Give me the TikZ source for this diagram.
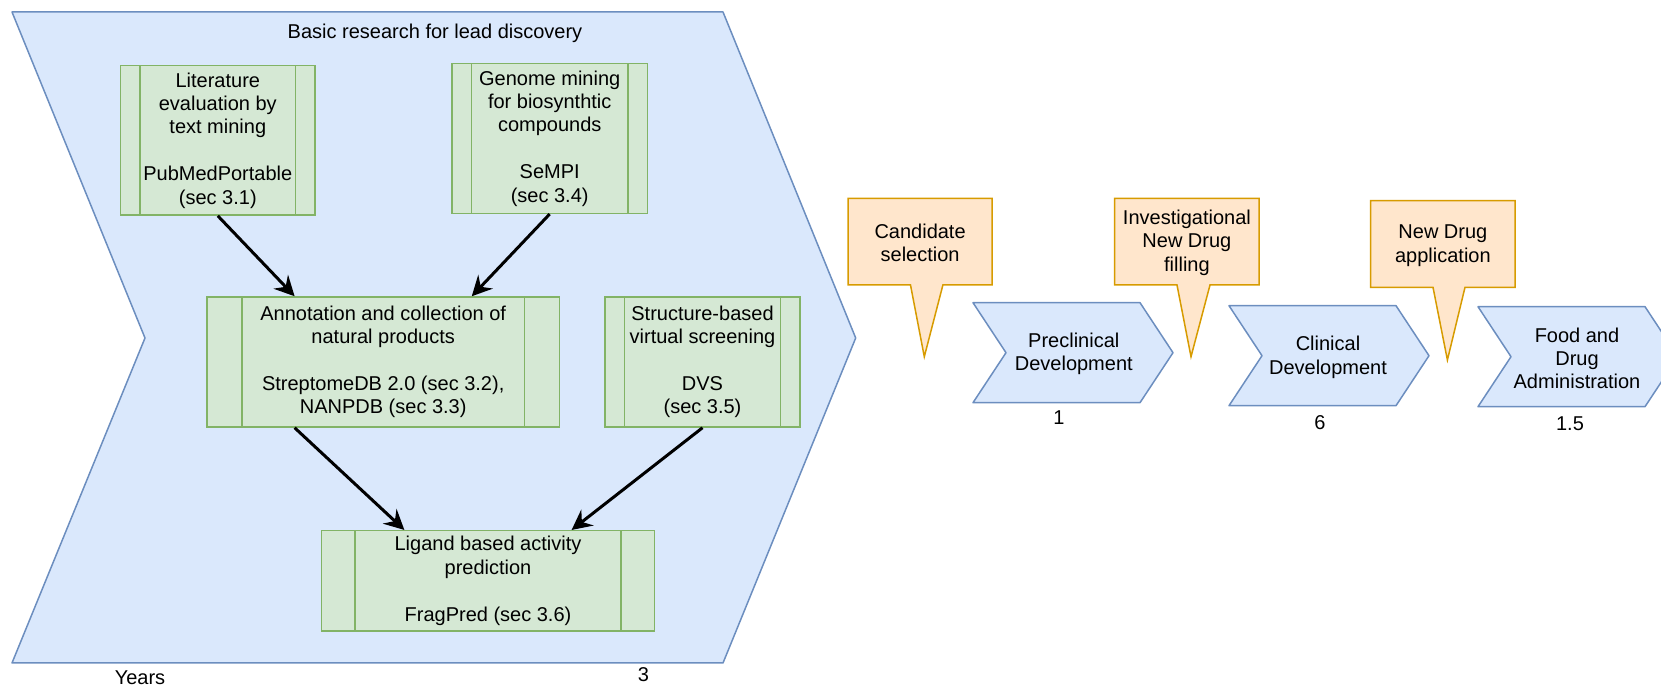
\documentclass[tikz,border=0pt]{standalone}
\usepackage{fontspec}
\setmainfont{Liberation Sans}
\usetikzlibrary{arrows.meta,calc}
\definecolor{bluefill}{HTML}{DAE8FC}
\definecolor{blueline}{HTML}{6C8EBF}
\definecolor{greenfill}{HTML}{D5E8D4}
\definecolor{greenline}{HTML}{82B366}
\definecolor{orangefill}{HTML}{FFE6CC}
\definecolor{orangeline}{HTML}{D79B00}

\begin{document}
\begin{tikzpicture}[x=0.5pt, y=-0.5pt,
    every node/.style={inner sep=0pt, align=center, font=\fontsize{10}{11.7}\selectfont},
    phase/.style={draw=blueline, fill=bluefill, line width=0.75pt, line join=round},
    callout/.style={draw=orangeline, fill=orangefill, line width=0.75pt},
    procbox/.style={rectangle, draw=greenline, fill=greenfill, line width=0.75pt,
        path picture={
            \draw [greenline, line width=0.75pt]
                ($(path picture bounding box.north west)!0.1!(path picture bounding box.north east)$) --
                ($(path picture bounding box.south west)!0.1!(path picture bounding box.south east)$)
                ($(path picture bounding box.north west)!0.9!(path picture bounding box.north east)$) --
                ($(path picture bounding box.south west)!0.9!(path picture bounding box.south east)$);
        }},
    flow/.style={-{Stealth[length=10pt, width=10pt, inset=3.5pt]}, line width=1.5pt}]
    \useasboundingbox (0,0) rectangle (1661,688);

    \draw [phase] (12,12) -- (723,12) -- (855.7,338) -- (723,663) -- (12,663) -- (145,338) -- cycle;
    \node (basic) at (435,33) {Basic research for lead discovery};
    \node (years) at (140,678) {Years};
    \node (t3) at (643.5,675) {3};

    \node (lit) [procbox, minimum width=97.1pt, minimum height=74.7pt] at (217.8,140.4)
        {Literature\\evaluation by\\text mining\\[11.7pt]PubMedPortable\\(sec 3.1)};
    \node (gen) [procbox, minimum width=97.7pt, minimum height=74.8pt] at (549.7,138.5)
        {Genome mining\\for biosynthtic\\compounds\\[11.7pt]SeMPI\\(sec 3.4)};
    \node (ann) [procbox, minimum width=176.4pt, minimum height=65pt] at (383.2,362)
        {Annotation and collection of\\natural products\\[11.7pt]StreptomeDB 2.0 (sec 3.2),\\NANPDB (sec 3.3)};
    \node (str) [procbox, minimum width=97.5pt, minimum height=65pt] at (702.5,362)
        {Structure-based\\virtual screening\\[11.7pt]DVS\\(sec 3.5)};
    \node (lig) [procbox, minimum width=166.5pt, minimum height=50.2pt] at (488,580.9)
        {Ligand based activity\\prediction\\[11.7pt]FragPred (sec 3.6)};

    \draw [flow] (lit.south) -- ($(ann.north west)!0.25!(ann.north east)$);
    \draw [flow] (gen.south) -- ($(ann.north west)!0.75!(ann.north east)$);
    \draw [flow] ($(ann.south west)!0.25!(ann.south east)$) -- ($(lig.north west)!0.25!(lig.north east)$);
    \draw [flow] (str.south) -- ($(lig.north west)!0.75!(lig.north east)$);

    \draw [callout] (848,198.3) -- (992.2,198.3) -- (992.2,285) -- (942.9,285) -- (924.3,356.7)
        -- (910.5,285) -- (848,285) -- cycle;
    \node (cand) at (920.1,242.7) {Candidate\\selection};
    \draw [callout] (1114.6,198.3) -- (1259.2,198.3) -- (1259.2,285) -- (1210,285) -- (1191,356.7)
        -- (1177,285) -- (1114.6,285) -- cycle;
    \node (ind) at (1186.9,242.7) {Investigational\\New Drug\\filling};
    \draw [callout] (1370.5,200.7) -- (1515.2,200.7) -- (1515.2,287.3) -- (1465,287.3) -- (1447.4,360)
        -- (1433,287.3) -- (1370.5,287.3) -- cycle;
    \node (nda) at (1442.9,245.8) {New Drug\\application};

    \draw [phase] (973,302.7) -- (1140,302.7) -- (1173,352.7) -- (1140,402.7) -- (973,402.7) -- (1006,352.7) -- cycle;
    \node (pre) at (1073.8,353.7) {Preclinical\\Development};
    \node (t1) at (1059,418) {1};
    \draw [phase] (1229,305.7) -- (1396,305.7) -- (1429,355.7) -- (1396,405.7) -- (1229,405.7) -- (1262,355.7) -- cycle;
    \node (cli) at (1328,357.3) {Clinical\\Development};
    \node (t6) at (1320,423) {6};
    \draw [phase] (1478,306.7) -- (1645,306.7) -- (1678,356.7) -- (1645,406.7) -- (1478,406.7) -- (1511,356.7) -- cycle;
    \node (fda) at (1577,358.3) {Food and\\Drug\\Administration};
    \node (t15) at (1570,423.3) {1.5};
\end{tikzpicture}
\end{document}
